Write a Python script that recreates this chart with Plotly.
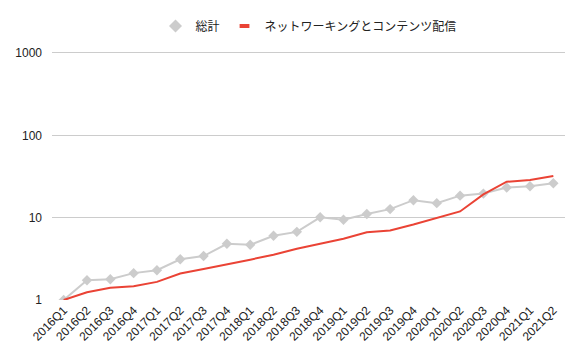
import plotly.graph_objects as go

quarters = ["2016Q1","2016Q2","2016Q3","2016Q4","2017Q1","2017Q2","2017Q3","2017Q4",
            "2018Q1","2018Q2","2018Q3","2018Q4","2019Q1","2019Q2","2019Q3","2019Q4",
            "2020Q1","2020Q2","2020Q3","2020Q4","2021Q1","2021Q2"]
total = [1.0, 1.74, 1.79, 2.12, 2.30, 3.12, 3.42, 4.82, 4.68, 6.02, 6.72, 10.1,
         9.45, 11.1, 12.7, 16.3, 15.0, 18.5, 19.6, 23.2, 24.1, 26.2]
networking = [1.0, 1.24, 1.41, 1.47, 1.66, 2.10, 2.38, 2.74, 3.09, 3.55, 4.20, 4.82,
              5.54, 6.66, 6.97, 8.24, 9.8, 11.9, 19.2, 27.3, 28.7, 32.1]
name_total = "総計"
name_net = "ネットワーキングとコンテンツ配信"
y_ticks = [1, 10, 100, 1000]

gray = "#cccccc"
red = "#ea4335"
font = "Arial, 'Noto Sans CJK JP', sans-serif"

fig = go.Figure()
fig.add_trace(go.Scatter(x=quarters, y=total, mode="lines+markers", name=name_total,
                         line=dict(color=gray, width=2),
                         marker=dict(symbol="diamond", size=8, color=gray),
                         showlegend=False))
fig.add_trace(go.Scatter(x=quarters, y=networking, mode="lines", name=name_net,
                         line=dict(color=red, width=2), showlegend=False))
fig.add_trace(go.Scatter(x=[None], y=[None], mode="markers", name=name_total,
                         marker=dict(symbol="diamond", size=10, color=gray)))
fig.add_trace(go.Scatter(x=[None], y=[None], mode="markers", name=name_net,
                         marker=dict(symbol="line-ew", size=7, color=red,
                                     line=dict(color=red, width=4))))

fig.update_layout(
    width=583, height=361,
    margin=dict(l=52, r=18, t=49, b=61),
    paper_bgcolor="white", plot_bgcolor="white",
    font=dict(family=font, size=12, color="#222222"),
    legend=dict(orientation="h", x=0.5, xanchor="center", y=1.10, yanchor="middle",
                font=dict(size=12), itemsizing="trace"),
    showlegend=True,
)
fig.update_xaxes(type="category", range=[-0.5, 21.5], tickangle=-45, showgrid=False,
                 ticks="", showline=False, tickfont=dict(size=12))
fig.update_yaxes(type="log", range=[0, 3.024], tickvals=y_ticks,
                 ticktext=[str(v) for v in y_ticks], showgrid=True, gridcolor="#cccccc",
                 gridwidth=1, zeroline=False, showline=False, ticks="",
                 tickfont=dict(size=12), ticklabelstandoff=9)
fig.write_html("out.html", config={"displayModeBar": False},
               post_script="document.body.style.margin='0';document.body.style.padding='0';")
